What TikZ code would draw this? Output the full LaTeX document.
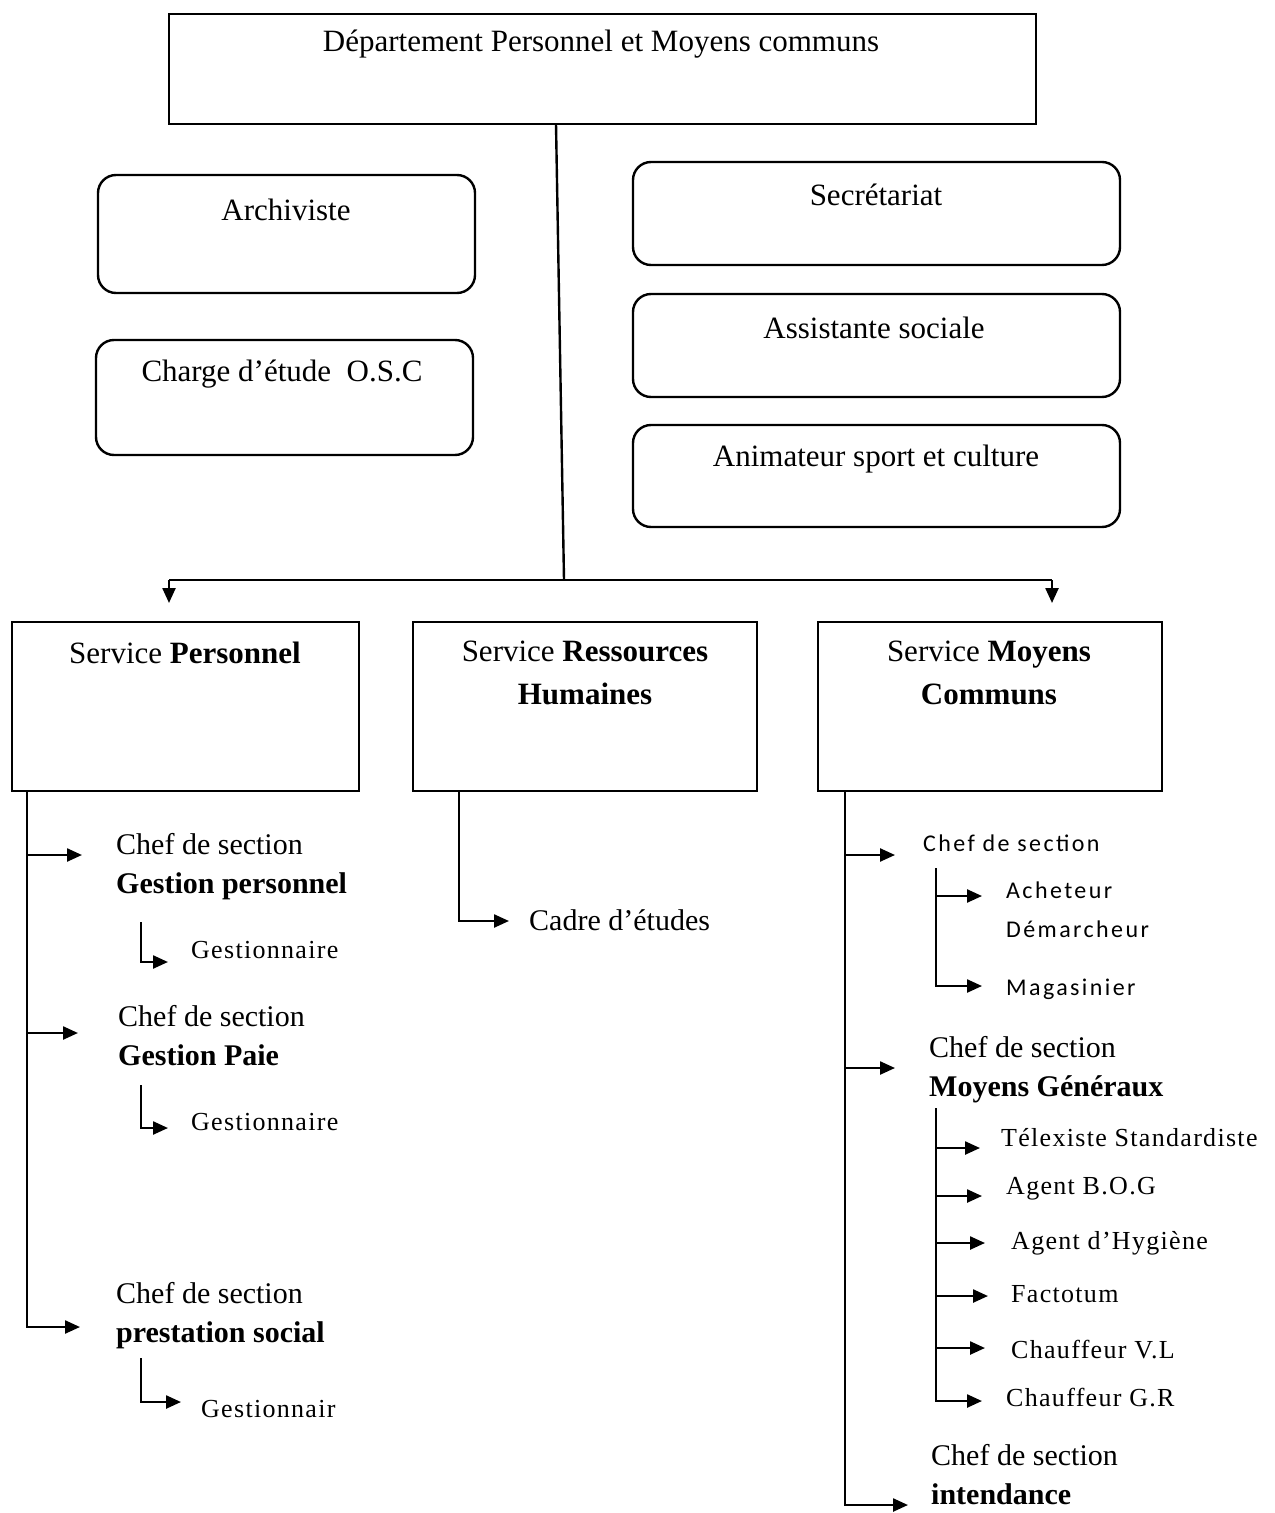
\documentclass[tikz,border=0pt]{standalone}
\usepackage{fontspec}
\setmainfont{Liberation Serif}
\newfontfamily\calfont{Carlito}[LetterSpace=10]
\newfontfamily\spacedfont{Liberation Serif}[LetterSpace=5]
\usetikzlibrary{arrows.meta,calc,fit}

\begin{document}
\begin{tikzpicture}[x=0.5pt,y=-0.5pt,
  line width=1.2pt,
  sqbox/.style={draw, line width=1.2pt, inner sep=0pt},
  rbox/.style={draw, line width=1.2pt, inner sep=0pt, rounded corners=9pt},
  ttl/.style={inner sep=0pt, font=\fontsize{15.5}{21.5}\selectfont},
  lbl/.style={inner sep=0pt, anchor=west, align=left, font=\fontsize{15}{19.5}\selectfont},
  sub/.style={inner sep=0pt, anchor=west, align=left, font=\spacedfont\fontsize{13}{19.5}\selectfont},
  cal/.style={inner sep=0pt, anchor=west, align=left, font=\calfont\fontsize{12}{19.5}\selectfont},
  arr/.style={-{Triangle[length=7.5pt,width=6.5pt]}}
]
\useasboundingbox (0,0) rectangle (1274,1513);

% ---- department head ----
\node[sqbox, fit={(169,14)(1036,124)}] (top) {};
\node[ttl] (topT) at (601,44) {Département Personnel et Moyens communs};

% ---- staff attached to the department ----
\node[rbox, fit={(98,175)(475,293)}] (arch) {};
\node[ttl] (archT) at (286,210) {Archiviste};
\node[rbox, fit={(96,340)(473,455)}] (osc) {};
\node[ttl] (oscT) at (282,374) {Charge d’étude\ \ O.S.C};
\node[rbox, fit={(633,162)(1120,265)}] (sec) {};
\node[ttl] (secT) at (876,195) {Secrétariat};
\node[rbox, fit={(633,294)(1120,397)}] (ass) {};
\node[ttl] (assT) at (874,328) {Assistante sociale};
\node[rbox, fit={(633,425)(1120,527)}] (anim) {};
\node[ttl] (animT) at (876,459) {Animateur sport et culture};

% ---- trunk and distribution bar ----
\coordinate (t0) at (556,124);
\coordinate (j) at (564,580);
\coordinate (aL) at (169,603);
\coordinate (aR) at (1052,603);
\draw (t0) -- (j);
\draw (aL |- j) -- (aR |- j);
\draw[arr] (aL |- j) -- (aL);
\draw[arr] (aR |- j) -- (aR);

% ---- services ----
\node[sqbox, fit={(12,622)(359,791)}] (sP) {};
\node[ttl] (sPT) at (185,653) {Service \textbf{Personnel}};
\node[sqbox, fit={(413,622)(757,791)}] (sRH) {};
\node[ttl, align=center] (sRHT) at (585,673) {Service \textbf{Ressources}\\\textbf{Humaines}};
\node[sqbox, fit={(818,622)(1162,791)}] (sMC) {};
\node[ttl, align=center] (sMCT) at (989,673) {Service \textbf{Moyens}\\\textbf{Communs}};

% ---- Service Personnel branch ----
\coordinate (lp) at (27,1327);
\coordinate (tGP) at (82,855);
\coordinate (tPa) at (78,1033);
\coordinate (tPS) at (80,1327);
\draw[arr] (sP.south -| lp) |- (tPS);
\draw[arr] (tGP -| lp) -- (tGP);
\draw[arr] (tPa -| lp) -- (tPa);

\node[lbl] (cGP) at (115,867) {Chef de section\\\textbf{Gestion personnel}};
\node[lbl] (cPa) at (117,1036) {Chef de section\\\textbf{Gestion Paie}};
\node[lbl] (cPS) at (115,1316) {Chef de section\\\textbf{prestation social}};

\coordinate (g1a) at (141,922);
\coordinate (g1t) at (168,962);
\coordinate (g2a) at (141,1085);
\coordinate (g2t) at (168,1128);
\coordinate (g3a) at (141,1358);
\coordinate (g3t) at (181,1402);
\draw[arr] (g1a) |- (g1t);
\draw[arr] (g2a) |- (g2t);
\draw[arr] (g3a) |- (g3t);
\node[sub] (gs1) at (190,950) {Gestionnaire};
\node[sub] (gs2) at (190,1122) {Gestionnaire};
\node[sub] (gs3) at (200,1409) {Gestionnair};

% ---- Service Ressources Humaines branch ----
\coordinate (rhx) at (459,791);
\coordinate (tCE) at (509,921);
\draw[arr] (rhx) |- (tCE);
\node[lbl] (ce) at (528,920) {Cadre d’études};

% ---- Service Moyens Communs branch ----
\coordinate (rp) at (845,1505);
\coordinate (tIN) at (908,1505);
\coordinate (tC1) at (895,855);
\coordinate (tC2) at (895,1068);
\draw[arr] (sMC.south -| rp) |- (tIN);
\draw[arr] (tC1 -| rp) -- (tC1);
\draw[arr] (tC2 -| rp) -- (tC2);

\node[cal] (c1) at (922,843) {Chef de section};
\coordinate (s1) at (936,868);
\coordinate (tAch) at (982,896);
\coordinate (tMag) at (982,986);
\draw[arr] (s1) |- (tMag);
\draw[arr] (tAch -| s1) -- (tAch);
\node[cal] (ach) at (1005,910) {Acheteur\\Démarcheur};
\node[cal] (mag) at (1005,989) {Magasinier};

\node[lbl] (c2) at (928,1070) {Chef de section\\\textbf{Moyens Généraux}};
\coordinate (s2) at (936,1108);
\coordinate (tTel) at (980,1148);
\coordinate (tBOG) at (982,1196);
\coordinate (tHyg) at (985,1243);
\coordinate (tFac) at (988,1296);
\coordinate (tVL) at (985,1348);
\coordinate (tGR) at (982,1401);
\draw[arr] (s2) |- (tGR);
\foreach \t in {tTel,tBOG,tHyg,tFac,tVL}
  \draw[arr] (\t -| s2) -- (\t);
\node[sub] (tel) at (1000,1138) {Télexiste Standardiste};
\node[sub] (bog) at (1005,1189) {Agent B.O.G};
\node[sub] (hyg) at (1010,1243) {Agent d’Hygiène};
\node[sub] (fac) at (1010,1294) {Factotum};
\node[sub] (vl) at (1010,1350) {Chauffeur V.L};
\node[sub] (gr) at (1005,1398) {Chauffeur G.R};

\node[lbl] (c3) at (930,1475) {Chef de section\\\textbf{intendance}};
\end{tikzpicture}
\end{document}
